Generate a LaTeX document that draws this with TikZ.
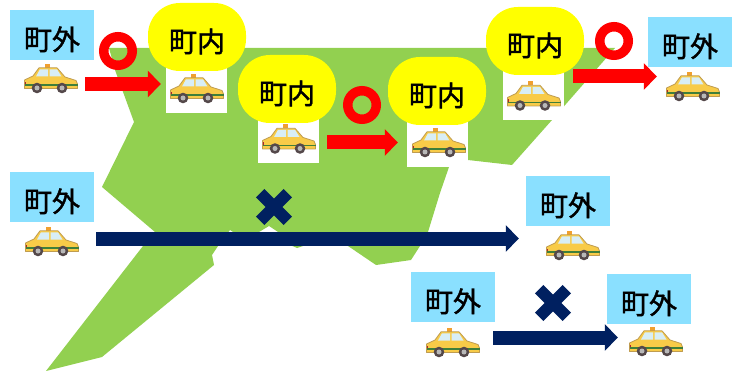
\documentclass[tikz,border=0pt]{standalone}
\usepackage{fontspec}
\newfontfamily\cjk[FakeBold=1.5]{Noto Sans CJK JP}
\usetikzlibrary{arrows.meta,shapes.misc}
\definecolor{mapgreen}{HTML}{92D050}
\definecolor{skyb}{HTML}{8AE0FF}
\definecolor{navyb}{HTML}{002060}
\definecolor{pureyellow}{HTML}{FFFF00}
\definecolor{purered}{HTML}{FF0000}
\definecolor{taxiy}{HTML}{F8CB48}
\definecolor{taxie}{HTML}{BF9C50}
\definecolor{glassb}{HTML}{D8EEF6}
\definecolor{tyre}{HTML}{54484A}
\definecolor{signo}{HTML}{F0A030}
\definecolor{stripe}{HTML}{3F7F3A}
\definecolor{taill}{HTML}{B02030}
\definecolor{hub}{HTML}{B8B8B8}
\newcommand{\lbl}[1]{\raisebox{-15pt}[0pt][0pt]{\fontsize{28}{28}\cjk #1}}
\tikzset{
  outside/.style={fill=skyb,minimum width=84pt,minimum height=50pt,inner sep=0pt},
  inside/.style={fill=pureyellow,minimum width=98pt,minimum height=68pt,inner sep=0pt,rounded corners=32pt},
  backing/.style={fill=white,minimum width=61pt,minimum height=55pt,inner sep=0pt},
  okarrow/.style={draw=purered,line width=14pt,-{Triangle[length=13pt,width=26pt]}},
  ngarrow/.style={draw=navyb,line width=14pt,-{Triangle[length=13pt,width=26pt]}},
  okring/.style={circle,draw=purered,line width=9.5pt,minimum size=28.5pt,inner sep=0pt,outer sep=0pt},
  ngcross/.style={cross out,draw=navyb,line width=12pt,minimum size=27.6pt,inner sep=0pt,outer sep=0pt},
  taxi/.pic={
    \node[minimum width=54pt,minimum height=29pt,inner sep=0pt] (-n) at (0,0) {};
    \begin{scope}[shift={(-27,-14.5)}]
      \fill[signo] (20.5,0) rectangle (25.5,4);
      \filldraw[fill=taxiy,draw=taxie,line width=0.8pt,line join=round]
        (0.5,16) -- (9,12) -- (15,3.8) -- (33,3.8) -- (41,13) -- (52,16.5) -- (53.5,20) -- (53.5,24.5)
        -- (0.5,24.5) -- cycle;
      \fill[glassb] (12,12.5) -- (16,5.3) -- (24,5.3) -- (24,12.5) -- cycle;
      \fill[glassb] (25.5,5.3) -- (33,5.3) -- (37.5,12.5) -- (25.5,12.5) -- cycle;
      \fill[stripe] (0.5,20.3) rectangle (53.5,21.6);
      \fill[taill] (0.5,18) rectangle (2.2,20.3);
      \fill[tyre] (13,24) circle (5.3);
      \fill[tyre] (38,24) circle (5.3);
      \fill[hub] (13,24) circle (2.5);
      \fill[hub] (38,24) circle (2.5);
    \end{scope}
  }
}
\begin{document}
\begin{tikzpicture}[x=1pt,y=-1pt]
\useasboundingbox (0,0) rectangle (735,371);
\fill[mapgreen] (109,48) -- (615,48) -- (552,120) -- (512,165) -- (468,160) -- (449,167)
  -- (440,193) -- (428,232) -- (420,246) -- (411,260) -- (376,265) -- (348,246) -- (303,244)
  -- (303,246) -- (297,248) -- (290,245) -- (278,232) -- (269,226) -- (259,232) -- (233,232)
  -- (230,230) -- (218,246) -- (212,255) -- (214,265) -- (102,357) -- (46,371) -- (143,246)
  -- (155,232) -- (102,187) -- (134,122) -- (115,70) -- cycle;
% backing squares
\node[backing] (b1) at (196.5,85.5) {};
\node[backing] (b2) at (288.5,135.5) {};
\node[backing] (b3) at (437.5,139.5) {};
\node[backing] (b4) at (533.5,92.5) {};
% taxis
\pic (ta) at (51,78.5) {taxi};
\pic (t1) at (197,88.5) {taxi};
\pic (t2) at (289,139) {taxi};
\pic (t3) at (439,142.5) {taxi};
\pic (t4) at (534,96) {taxi};
\pic (tc) at (693,86.5) {taxi};
\pic (tb) at (52,241.5) {taxi};
\pic (td) at (573,245.5) {taxi};
\pic (te) at (453,342.5) {taxi};
\pic (tf) at (656,341.5) {taxi};
% labels
\node[outside] (oa) at (52,35) {\lbl{町外}};
\node[outside] (ob) at (52,197) {\lbl{町外}};
\node[outside] (oc) at (690,42) {\lbl{町外}};
\node[outside] (od) at (568,201) {\lbl{町外}};
\node[outside] (oe) at (453,297) {\lbl{町外}};
\node[outside] (of) at (649,299) {\lbl{町外}};
\node[inside] (i1) at (197,37) {\lbl{町内}};
\node[inside] (i2) at (287,89) {\lbl{町内}};
\node[inside] (i3) at (437,91) {\lbl{町内}};
\node[inside] (i4) at (535,41) {\lbl{町内}};
% arrows
\draw[okarrow] ([shift={(7,5.5)}]ta-n.east) -- ([shift={(-9,-4.5)}]t1-n.west);
\draw[okarrow] ([shift={(11,3.5)}]t2-n.east) -- ([shift={(-14,0)}]t3-n.west);
\draw[okarrow] ([shift={(12,-19.5)}]t4-n.east) -- ([shift={(-9,-10)}]tc-n.west);
\draw[ngarrow] ([shift={(17,-3)}]tb-n.east) -- ([shift={(-27,-7)}]td-n.west);
\draw[ngarrow] ([shift={(13,-5)}]te-n.east) -- ([shift={(-11,-4)}]tf-n.west);
% marks
\node[okring] (r1) at (118,51) {};
\node[okring] (r2) at (362,105) {};
\node[okring] (r3) at (614,41) {};
\node[ngcross] (x1) at (274,207) {};
\node[ngcross] (x2) at (553,303) {};
\end{tikzpicture}
\end{document}
